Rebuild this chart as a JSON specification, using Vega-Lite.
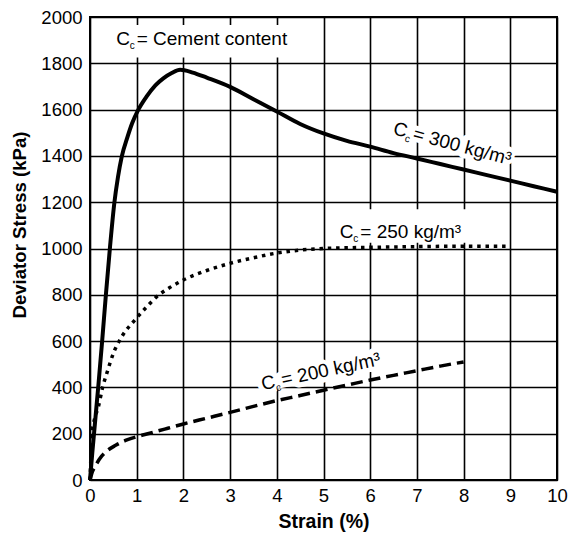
{
  "$schema": "https://vega.github.io/schema/vega-lite/v6.json",
  "width": 467,
  "height": 463,
  "autosize": {"type": "none"},
  "padding": {"left": 90, "top": 17, "right": 17, "bottom": 56},
  "background": "white",
  "config": {
    "view": {"stroke": "black", "strokeWidth": 2},
    "font": "Liberation Sans",
    "axis": {
      "grid": true, "gridColor": "black", "gridOpacity": 1, "gridWidth": 1.6,
      "ticks": false, "domain": false,
      "labelFont": "Liberation Sans", "labelFontSize": 18.5, "labelColor": "black",
      "titleFont": "Liberation Sans", "titleFontWeight": "bold", "titleColor": "black"
    }
  },
  "datasets": {
    "c300": [
      {"strain": 0, "stress": 0}, {"strain": 0.05, "stress": 120}, {"strain": 0.18, "stress": 410},
      {"strain": 0.26, "stress": 600}, {"strain": 0.34, "stress": 800}, {"strain": 0.43, "stress": 1010},
      {"strain": 0.52, "stress": 1195}, {"strain": 0.6, "stress": 1310}, {"strain": 0.68, "stress": 1397},
      {"strain": 0.8, "stress": 1480}, {"strain": 0.9, "stress": 1540}, {"strain": 1.03, "stress": 1598},
      {"strain": 1.21, "stress": 1656}, {"strain": 1.4, "stress": 1705}, {"strain": 1.57, "stress": 1735},
      {"strain": 1.75, "stress": 1758}, {"strain": 1.93, "stress": 1772}, {"strain": 2.2, "stress": 1760},
      {"strain": 2.5, "stress": 1738}, {"strain": 3, "stress": 1698}, {"strain": 3.5, "stress": 1645},
      {"strain": 4, "stress": 1592}, {"strain": 4.5, "stress": 1538}, {"strain": 5, "stress": 1497},
      {"strain": 5.5, "stress": 1465}, {"strain": 6, "stress": 1440}, {"strain": 6.5, "stress": 1412},
      {"strain": 7, "stress": 1389}, {"strain": 7.5, "stress": 1365}, {"strain": 8, "stress": 1341},
      {"strain": 8.5, "stress": 1317}, {"strain": 9, "stress": 1293}, {"strain": 9.5, "stress": 1269},
      {"strain": 10, "stress": 1245}
    ],
    "c250": [
      {"strain": 0, "stress": 0}, {"strain": 0.02, "stress": 100}, {"strain": 0.04, "stress": 200},
      {"strain": 0.1, "stress": 265}, {"strain": 0.18, "stress": 317}, {"strain": 0.27, "stress": 400},
      {"strain": 0.36, "stress": 461}, {"strain": 0.5, "stress": 547}, {"strain": 0.68, "stress": 619},
      {"strain": 0.96, "stress": 691}, {"strain": 1.2, "stress": 745}, {"strain": 1.43, "stress": 792},
      {"strain": 1.7, "stress": 830}, {"strain": 2, "stress": 864}, {"strain": 2.5, "stress": 905},
      {"strain": 3, "stress": 936}, {"strain": 3.5, "stress": 960}, {"strain": 3.96, "stress": 979},
      {"strain": 4.5, "stress": 993}, {"strain": 5, "stress": 1000}, {"strain": 6, "stress": 1005},
      {"strain": 7, "stress": 1008}, {"strain": 8, "stress": 1010}, {"strain": 9, "stress": 1010}
    ],
    "c200": [
      {"strain": 0, "stress": 0}, {"strain": 0.05, "stress": 35}, {"strain": 0.11, "stress": 58},
      {"strain": 0.2, "stress": 90}, {"strain": 0.36, "stress": 125}, {"strain": 0.55, "stress": 150},
      {"strain": 0.79, "stress": 173}, {"strain": 1, "stress": 187}, {"strain": 1.28, "stress": 202},
      {"strain": 1.6, "stress": 220}, {"strain": 2, "stress": 242}, {"strain": 2.5, "stress": 267},
      {"strain": 3, "stress": 292}, {"strain": 3.5, "stress": 318}, {"strain": 4, "stress": 343},
      {"strain": 4.5, "stress": 365}, {"strain": 5, "stress": 388}, {"strain": 5.5, "stress": 410},
      {"strain": 6, "stress": 432}, {"strain": 6.5, "stress": 452}, {"strain": 7, "stress": 472},
      {"strain": 7.5, "stress": 492}, {"strain": 8, "stress": 510}
    ],
    "boxes": [
      {"strain": 0.12, "strain2": 4.55, "stress": 1825, "stress2": 1965},
      {"strain": 5.15, "strain2": 8.45, "stress": 1025, "stress2": 1170}
    ],
    "flat": [
      {"strain": 0.56, "stress": 1879, "c": "C", "rest": "= Cement content", "sub": "c"},
      {"strain": 5.35, "stress": 1044, "c": "C", "rest": "= 250 kg/m³", "sub": "c"}
    ],
    "l300": [{"strain": 6.47, "stress": 1495, "main": "C   = 300 kg/m³", "c": "C", "rest": "= 300 kg/m³", "sub": "c"}],
    "l200": [{"strain": 3.7, "stress": 388, "main": "C   = 200 kg/m³", "c": "C", "rest": "= 200 kg/m³", "sub": "c"}]
  },
  "encoding": {
    "x": {
      "field": "strain", "type": "quantitative",
      "scale": {"domain": [0, 10], "nice": false},
      "axis": {
        "title": "Strain (%)", "values": [0, 1, 2, 3, 4, 5, 6, 7, 8, 9, 10],
        "labelPadding": 6, "labelFlush": false, "titleFontSize": 19.5,
        "titleBaseline": "alphabetic", "titleY": 47
      }
    },
    "y": {
      "field": "stress", "type": "quantitative",
      "scale": {"domain": [0, 2000], "nice": false},
      "axis": {
        "title": "Deviator Stress (kPa)", "format": "d",
        "values": [0, 200, 400, 600, 800, 1000, 1200, 1400, 1600, 1800, 2000],
        "labelPadding": 8, "titleFontSize": 18.6, "titleAngle": -90,
        "titleX": -65, "titleY": 207.5, "titleBaseline": "alphabetic", "titleAlign": "center"
      }
    }
  },
  "layer": [
    {
      "data": {"name": "boxes"},
      "mark": {"type": "rect", "fill": "white", "strokeWidth": 0},
      "encoding": {"x2": {"field": "strain2"}, "y2": {"field": "stress2"}}
    },
    {
      "data": {"name": "l300"},
      "mark": {"type": "text", "angle": 15, "align": "left", "baseline": "alphabetic", "font": "Liberation Sans", "fontSize": 19, "fill": "white", "stroke": "white", "strokeWidth": 10, "strokeJoin": "round"},
      "encoding": {"text": {"field": "main"}}
    },
    {
      "data": {"name": "l200"},
      "mark": {"type": "text", "angle": -12, "align": "left", "baseline": "alphabetic", "font": "Liberation Sans", "fontSize": 19, "fill": "white", "stroke": "white", "strokeWidth": 10, "strokeJoin": "round"},
      "encoding": {"text": {"field": "main"}}
    },
    {
      "data": {"name": "c300"},
      "mark": {"type": "line", "color": "black", "strokeWidth": 4, "interpolate": "monotone"}
    },
    {
      "data": {"name": "c250"},
      "mark": {"type": "line", "color": "black", "strokeWidth": 3.5, "strokeDash": [3.5, 4.8], "interpolate": "monotone"}
    },
    {
      "data": {"name": "c200"},
      "mark": {"type": "line", "color": "black", "strokeWidth": 3.5, "strokeDash": [12, 6], "interpolate": "monotone"}
    },
    {
      "data": {"name": "flat"},
      "mark": {"type": "text", "align": "left", "baseline": "alphabetic", "font": "Liberation Sans", "fontSize": 19, "color": "black"},
      "encoding": {"text": {"field": "c"}}
    },
    {
      "data": {"name": "flat"},
      "mark": {"type": "text", "align": "left", "baseline": "alphabetic", "font": "Liberation Sans", "fontSize": 10, "color": "black", "dx": 13.5, "dy": 4},
      "encoding": {"text": {"field": "sub"}}
    },
    {
      "data": {"name": "flat"},
      "mark": {"type": "text", "align": "left", "baseline": "alphabetic", "font": "Liberation Sans", "fontSize": 19, "color": "black", "dx": 20.5},
      "encoding": {"text": {"field": "rest"}}
    },
    {
      "data": {"name": "l300"},
      "mark": {"type": "text", "angle": 15, "align": "left", "baseline": "alphabetic", "font": "Liberation Sans", "fontSize": 19, "color": "black"},
      "encoding": {"text": {"field": "c"}}
    },
    {
      "data": {"name": "l300"},
      "mark": {"type": "text", "angle": 15, "align": "left", "baseline": "alphabetic", "font": "Liberation Sans", "fontSize": 10, "color": "black", "dx": 13.5, "dy": 4},
      "encoding": {"text": {"field": "sub"}}
    },
    {
      "data": {"name": "l300"},
      "mark": {"type": "text", "angle": 15, "align": "left", "baseline": "alphabetic", "font": "Liberation Sans", "fontSize": 19, "color": "black", "dx": 20.5},
      "encoding": {"text": {"field": "rest"}}
    },
    {
      "data": {"name": "l200"},
      "mark": {"type": "text", "angle": -12, "align": "left", "baseline": "alphabetic", "font": "Liberation Sans", "fontSize": 19, "color": "black"},
      "encoding": {"text": {"field": "c"}}
    },
    {
      "data": {"name": "l200"},
      "mark": {"type": "text", "angle": -12, "align": "left", "baseline": "alphabetic", "font": "Liberation Sans", "fontSize": 10, "color": "black", "dx": 13.5, "dy": 4},
      "encoding": {"text": {"field": "sub"}}
    },
    {
      "data": {"name": "l200"},
      "mark": {"type": "text", "angle": -12, "align": "left", "baseline": "alphabetic", "font": "Liberation Sans", "fontSize": 19, "color": "black", "dx": 20.5},
      "encoding": {"text": {"field": "rest"}}
    }
  ]
}
